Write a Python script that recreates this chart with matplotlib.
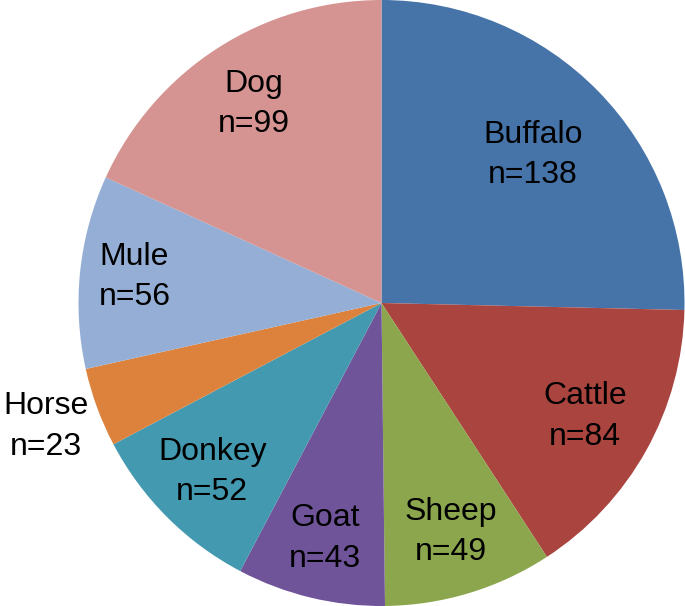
import numpy as np
import matplotlib
matplotlib.use("Agg")
import matplotlib.pyplot as plt

categories = ["Buffalo", "Cattle", "Sheep", "Goat", "Donkey", "Horse", "Mule", "Dog"]
counts = [138, 84, 49, 43, 52, 23, 56, 99]
colors = ["#4674A9", "#A9443F", "#8BA64C", "#70549A", "#4399AF", "#DC823D", "#95AED5", "#D59492"]
label_dist = [0.70, 0.77, 0.79, 0.80, 0.79, 1.18, 0.82, 0.78]

plt.rcParams['font.family'] = ['Liberation Sans', 'DejaVu Sans']

fig = plt.figure(figsize=(6.85, 6.06), dpi=100)
ax = fig.add_axes([78/685, 0, 607/685, 1])
labels = [f"{c}\nn={n}" for c, n in zip(categories, counts)]
wedges, texts = ax.pie(counts, labels=labels, colors=colors, startangle=90,
                       counterclock=False, labeldistance=0.78,
                       wedgeprops=dict(linewidth=0),
                       textprops=dict(fontsize=23, ha='center', va='center', linespacing=1.45))
for w, t, d in zip(wedges, texts, label_dist):
    ang = np.deg2rad((w.theta1 + w.theta2) / 2)
    t.set_position((d * np.cos(ang), d * np.sin(ang)))
    t.set_ha('center')
    t.set_va('center')
ax.set_xlim(-1, 1)
ax.set_ylim(-1, 1)
ax.set_aspect('equal')
fig.savefig("out.png", dpi=100)
